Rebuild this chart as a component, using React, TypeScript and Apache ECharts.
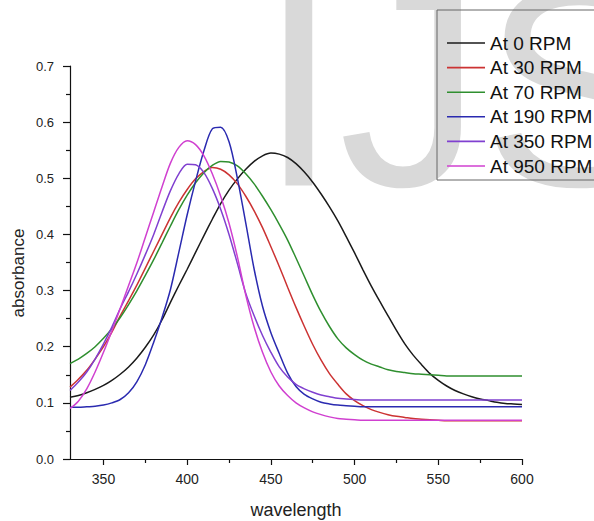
import { useEffect, useRef } from "react";
import * as echarts from "echarts";

const wavelengths = [330, 335, 340, 345, 350, 355, 360, 365, 370, 375, 380, 385, 390, 395, 400, 405, 410, 415, 420, 425, 430, 435, 440, 445, 450, 455, 460, 465, 470, 475, 480, 485, 490, 495, 500, 505, 510, 515, 520, 525, 530, 535, 540, 545, 550, 555, 560, 565, 570, 575, 580, 585, 590, 595, 600];

const rpm0 = [0.110, 0.113, 0.118, 0.124, 0.131, 0.140, 0.151, 0.164, 0.180, 0.199, 0.221, 0.248, 0.279, 0.309, 0.338, 0.368, 0.398, 0.427, 0.455, 0.479, 0.499, 0.516, 0.530, 0.540, 0.545, 0.543, 0.537, 0.526, 0.511, 0.493, 0.472, 0.449, 0.424, 0.396, 0.367, 0.337, 0.308, 0.281, 0.255, 0.229, 0.205, 0.185, 0.168, 0.152, 0.140, 0.130, 0.122, 0.116, 0.111, 0.107, 0.104, 0.101, 0.099, 0.098, 0.097];
const rpm30 = [0.128, 0.142, 0.158, 0.178, 0.200, 0.226, 0.255, 0.282, 0.310, 0.340, 0.370, 0.400, 0.430, 0.457, 0.480, 0.499, 0.512, 0.519, 0.516, 0.506, 0.490, 0.468, 0.442, 0.412, 0.378, 0.343, 0.306, 0.270, 0.236, 0.204, 0.176, 0.152, 0.133, 0.116, 0.104, 0.095, 0.088, 0.083, 0.079, 0.076, 0.074, 0.072, 0.071, 0.070, 0.069, 0.068, 0.068, 0.068, 0.068, 0.068, 0.068, 0.068, 0.068, 0.068, 0.068];
const rpm70 = [0.170, 0.178, 0.188, 0.200, 0.215, 0.232, 0.252, 0.275, 0.300, 0.327, 0.355, 0.385, 0.415, 0.444, 0.470, 0.492, 0.510, 0.523, 0.530, 0.529, 0.522, 0.508, 0.490, 0.468, 0.444, 0.418, 0.390, 0.358, 0.325, 0.292, 0.262, 0.236, 0.214, 0.198, 0.186, 0.176, 0.169, 0.164, 0.159, 0.156, 0.154, 0.152, 0.151, 0.150, 0.149, 0.148, 0.148, 0.148, 0.148, 0.148, 0.148, 0.148, 0.148, 0.148, 0.148];
const rpm190 = [0.092, 0.092, 0.093, 0.094, 0.096, 0.100, 0.106, 0.118, 0.138, 0.168, 0.208, 0.252, 0.302, 0.368, 0.435, 0.495, 0.549, 0.588, 0.591, 0.565, 0.500, 0.420, 0.338, 0.272, 0.225, 0.188, 0.153, 0.129, 0.115, 0.107, 0.101, 0.098, 0.096, 0.095, 0.094, 0.093, 0.093, 0.093, 0.093, 0.093, 0.093, 0.093, 0.093, 0.093, 0.093, 0.093, 0.093, 0.093, 0.093, 0.093, 0.093, 0.093, 0.093, 0.093, 0.093];
const rpm350 = [0.122, 0.137, 0.155, 0.178, 0.205, 0.235, 0.268, 0.298, 0.330, 0.364, 0.400, 0.440, 0.478, 0.508, 0.525, 0.524, 0.510, 0.482, 0.445, 0.400, 0.348, 0.295, 0.255, 0.220, 0.190, 0.164, 0.146, 0.133, 0.125, 0.119, 0.114, 0.111, 0.108, 0.107, 0.106, 0.105, 0.105, 0.105, 0.105, 0.105, 0.105, 0.105, 0.105, 0.105, 0.105, 0.105, 0.105, 0.105, 0.105, 0.105, 0.105, 0.105, 0.105, 0.105, 0.105];
const rpm950 = [0.090, 0.103, 0.125, 0.155, 0.190, 0.228, 0.268, 0.309, 0.350, 0.395, 0.440, 0.485, 0.527, 0.555, 0.567, 0.560, 0.540, 0.508, 0.468, 0.420, 0.360, 0.292, 0.235, 0.190, 0.155, 0.130, 0.113, 0.100, 0.091, 0.084, 0.079, 0.075, 0.072, 0.071, 0.070, 0.069, 0.069, 0.069, 0.069, 0.069, 0.069, 0.069, 0.069, 0.069, 0.069, 0.069, 0.069, 0.069, 0.069, 0.069, 0.069, 0.069, 0.069, 0.069, 0.069];

const seriesNames = ["At 0 RPM", "At 30 RPM", "At 70 RPM", "At 190 RPM", "At 350 RPM", "At 950 RPM"];
const seriesValues = [rpm0, rpm30, rpm70, rpm190, rpm350, rpm950];
const seriesColors = ["#1a1a1a", "#cc3333", "#2f8f2f", "#2a2ab0", "#8040d0", "#d040d0"];

const xMajorTicks = [350, 400, 450, 500, 550, 600];
const xMinorTicks = [375, 425, 475, 525, 575];

const FONT = "'Liberation Sans', Arial, sans-serif";

export default function App() {
  const ref = useRef<HTMLDivElement>(null);
  useEffect(() => {
    const chart = echarts.init(ref.current!, null, { renderer: "svg" });
    chart.setOption({
      animation: false,
      backgroundColor: "#ffffff",
      textStyle: { fontFamily: FONT },
      graphic: [
        {
          type: "text",
          z: -10,
          silent: true,
          style: {
            text: "IJSER",
            x: 259,
            y: 86,
            align: "left",
            verticalAlign: "middle",
            fontSize: 287,
            fontFamily: FONT,
            fill: "#d9d9d9",
          },
        },
        {
          type: "text",
          x: 18,
          y: 273,
          rotation: Math.PI / 2,
          style: {
            text: "absorbance",
            align: "center",
            verticalAlign: "middle",
            fontSize: 17,
            fontFamily: FONT,
            fill: "#222",
          },
        },
      ],
      legend: {
        orient: "vertical",
        left: 437,
        top: 10,
        padding: [23, 12, 4, 10],
        icon: "rect",
        itemWidth: 38,
        itemHeight: 1.6,
        itemGap: 4.6,
        borderColor: "#666",
        borderWidth: 1,
        backgroundColor: "transparent",
        textStyle: { fontSize: 19, lineHeight: 20, color: "#111", fontFamily: FONT },
        data: seriesNames,
      },
      grid: { left: 70, right: 72, top: 66, bottom: 62, outerBoundsMode: "none", containLabel: false },
      xAxis: [
        {
          type: "value",
          min: 330,
          max: 600,
          position: "bottom",
          axisLine: { show: true, lineStyle: { color: "#111", width: 1.2 } },
          axisTick: { show: true, customValues: xMajorTicks, length: 6, lineStyle: { color: "#111", width: 1.2 } },
          axisLabel: { show: true, customValues: xMajorTicks, fontSize: 14, color: "#222", margin: 13 },
          splitLine: { show: false },
          name: "wavelength",
          nameLocation: "middle",
          nameGap: 42,
          nameTextStyle: { fontSize: 18, color: "#222" },
        },
        {
          type: "value",
          min: 330,
          max: 600,
          position: "bottom",
          axisLine: { show: false },
          axisTick: { show: true, customValues: xMinorTicks, length: 4, lineStyle: { color: "#111", width: 1.2 } },
          axisLabel: { show: false },
          splitLine: { show: false },
        },
      ],
      yAxis: {
        type: "value",
        min: 0,
        max: 0.7,
        interval: 0.1,
        axisLine: { show: true, lineStyle: { color: "#111", width: 1.2 } },
        axisTick: { show: true, length: 7, lineStyle: { color: "#111", width: 1.2 } },
        minorTick: { show: true, splitNumber: 2, length: 4, lineStyle: { color: "#111", width: 1.2 } },
        axisLabel: { fontSize: 13, color: "#222", margin: 16, formatter: (v: number) => v.toFixed(1) },
        splitLine: { show: false },
        minorSplitLine: { show: false },
      },
      series: seriesNames.map((name, i) => ({
        name,
        type: "line",
        xAxisIndex: 0,
        symbol: "none",
        smooth: 0.3,
        color: seriesColors[i],
        lineStyle: { width: 1.5, color: seriesColors[i] },
        data: wavelengths.map((w, j) => [w, seriesValues[i][j]]),
      })),
    });
    return () => chart.dispose();
  }, []);
  return <div ref={ref} style={{ position: "absolute", left: 0, top: 0, width: 594, height: 521 }} />;
}
